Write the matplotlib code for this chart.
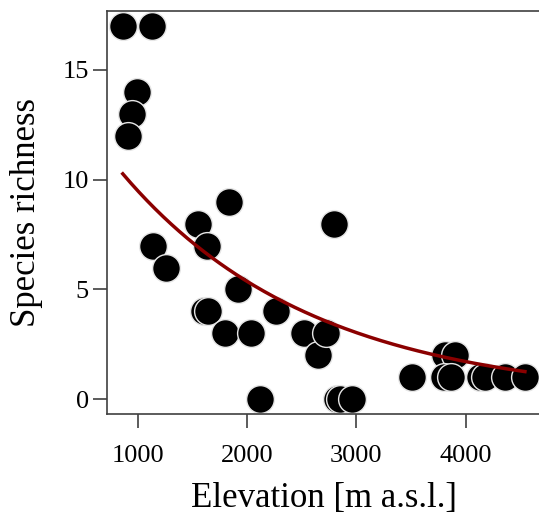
import matplotlib
matplotlib.use("Agg")
import matplotlib.pyplot as plt
import numpy as np

# elevation (m a.s.l.) and species richness
elevation = [863, 1128, 991, 945, 909, 1143, 1256, 1554, 1631, 1835,
             1610, 1646, 1799, 1920, 2037, 2119, 2263, 2521, 2652, 2723,
             2799, 2821, 2851, 2958, 3507, 3812, 3903, 3800, 3870, 4132,
             4178, 4360, 4543]
richness = [17, 17, 14, 13, 12, 7, 6, 8, 7, 9,
            4, 4, 3, 5, 3, 0, 4, 3, 2, 3,
            8, 0, 0, 0, 1, 2, 2, 1, 1, 1,
            1, 1, 1]

# fitted log-link curve, coefficients
fit_intercept = 2.821
fit_slope = -5.70e-4

x = np.array(elevation, dtype=float)
y = np.array(richness, dtype=float)

xfit = np.linspace(x.min(), x.max(), 200)
yfit = np.exp(fit_intercept + fit_slope * xfit)

plt.rcParams['font.family'] = ['Liberation Serif', 'DejaVu Serif']

fig = plt.figure(figsize=(5.39, 5.23), dpi=100)
ax = fig.add_axes([106.7 / 539, (523 - 414.2) / 523, (541 - 106.7) / 539, (414.2 - 11.1) / 523])

ax.scatter(x, y, s=20 ** 2, c='black', edgecolors='#e6e6e6', linewidths=1.0, zorder=2)
ax.plot(xfit, yfit, color='#8b0000', lw=2.5, zorder=3)

# R style 4% padding
xr = x.max() - x.min()
ax.set_xlim(x.min() - 0.04 * xr, x.max() + 0.04 * xr)
ax.set_ylim(-0.04 * 17, 17 + 0.04 * 17)

ax.set_xticks([1000, 2000, 3000, 4000])
ax.set_yticks([0, 5, 10, 15])
ax.tick_params(axis='both', direction='out', length=10, width=1.2, color='#404040',
               labelsize=19, labelcolor='black')
ax.tick_params(axis='x', pad=12)
ax.tick_params(axis='y', pad=3)
for s in ax.spines.values():
    s.set_color('#404040')
    s.set_linewidth(1.2)

ax.set_xlabel('Elevation [m a.s.l.]', fontsize=25, labelpad=11)
ax.set_ylabel('Species richness', fontsize=25, labelpad=14)

fig.savefig('out.png', dpi=100)
